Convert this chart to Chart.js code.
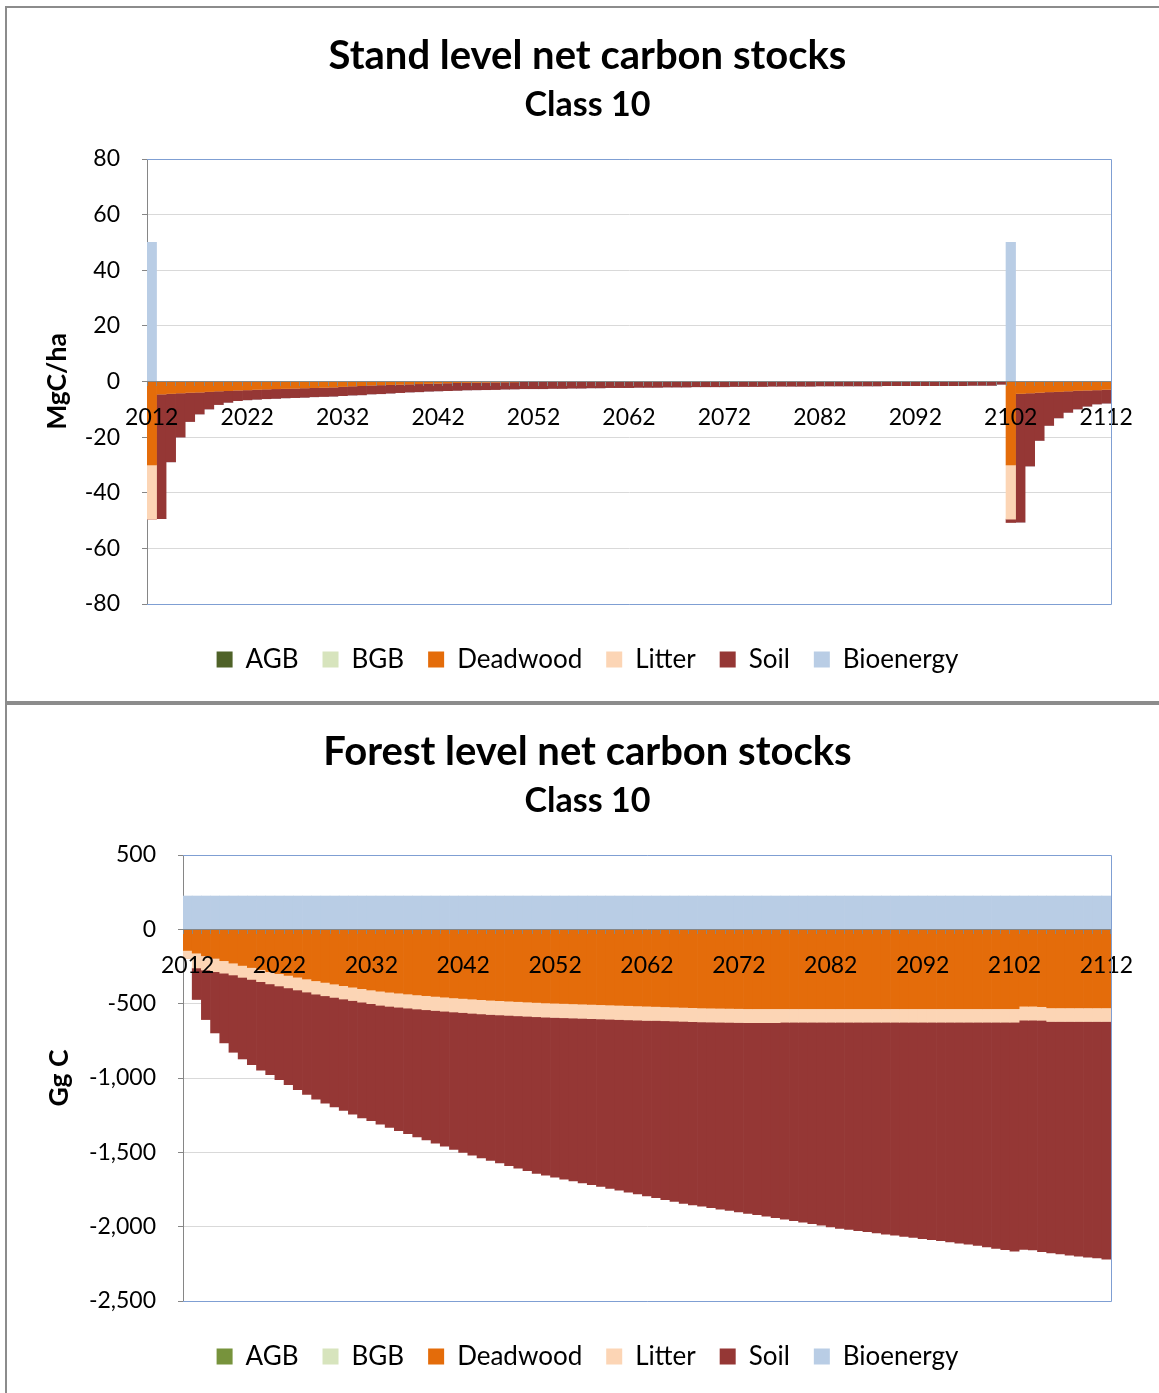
<!DOCTYPE html>
<html>
<head>
<meta charset="utf-8">
<title>Net carbon stocks - Class 10</title>
<script src="https://cdn.jsdelivr.net/npm/chart.js@4.4.1/dist/chart.umd.min.js"></script>
<style>
    body { margin: 0; background: #fff; width: 1159px; height: 1393px; position: relative; overflow: hidden; }
    .frame { position: absolute; background: #8c8c8c; }
    canvas { position: absolute; }
</style>
</head>
<body>
<div class="frame" style="left:5px; top:6px; width:1154px; height:2px;"></div>
<div class="frame" style="left:5px; top:6px; width:2px; height:1387px;"></div>
<div class="frame" style="left:5px; top:701px; width:1154px; height:4px;"></div>
<canvas id="standChart" width="1151" height="693" style="left:8px; top:8px;"></canvas>
<canvas id="forestChart" width="1151" height="688" style="left:8px; top:705px;"></canvas>
<script>
const years = [
    2012, 2013, 2014, 2015, 2016, 2017, 2018, 2019, 2020, 2021,
    2022, 2023, 2024, 2025, 2026, 2027, 2028, 2029, 2030, 2031,
    2032, 2033, 2034, 2035, 2036, 2037, 2038, 2039, 2040, 2041,
    2042, 2043, 2044, 2045, 2046, 2047, 2048, 2049, 2050, 2051,
    2052, 2053, 2054, 2055, 2056, 2057, 2058, 2059, 2060, 2061,
    2062, 2063, 2064, 2065, 2066, 2067, 2068, 2069, 2070, 2071,
    2072, 2073, 2074, 2075, 2076, 2077, 2078, 2079, 2080, 2081,
    2082, 2083, 2084, 2085, 2086, 2087, 2088, 2089, 2090, 2091,
    2092, 2093, 2094, 2095, 2096, 2097, 2098, 2099, 2100, 2101,
    2102, 2103, 2104, 2105, 2106, 2107, 2108, 2109, 2110, 2111,
    2112
];
const yearTicks = ['2012', '2022', '2032', '2042', '2052', '2062', '2072', '2082', '2092', '2102', '2112'];

// stand level, MgC/ha
const standAGB = [];
const standBGB = [];
const standDeadwood = [
    -30, -4.5, -4.3, -4.1, -3.9, -3.8, -3.6, -3.4, -3.3, -3.1,
    -3.0, -2.8, -2.7, -2.6, -2.5, -2.4, -2.3, -2.2, -2.1, -2.0,
    -1.8, -1.6, -1.5, -1.3, -1.2, -1.1, -1.0, -0.9, -0.8, -0.7,
    -0.6, -0.5, -0.4, -0.35, -0.3, -0.25, -0.2, -0.15, -0.1, 0,
    0, 0, 0, 0, 0, 0, 0, 0, 0, 0,
    0, 0, 0, 0, 0, 0, 0, 0, 0, 0,
    0, 0, 0, 0, 0, 0, 0, 0, 0, 0,
    0, 0, 0, 0, 0, 0, 0, 0, 0, 0,
    0, 0, 0, 0, 0, 0, 0, 0, 0, 0,
    -30, -4.3, -4.1, -3.9, -3.7, -3.6, -3.4, -3.2, -3.1, -3.0,
    -2.8
];
const standLitter = [
    -19.5, 0, 0, 0, 0, 0, 0, 0, 0, 0,
    0, 0, 0, 0, 0, 0, 0, 0, 0, 0,
    0, 0, 0, 0, 0, 0, 0, 0, 0, 0,
    0, 0, 0, 0, 0, 0, 0, 0, 0, 0,
    0, 0, 0, 0, 0, 0, 0, 0, 0, 0,
    0, 0, 0, 0, 0, 0, 0, 0, 0, 0,
    0, 0, 0, 0, 0, 0, 0, 0, 0, 0,
    0, 0, 0, 0, 0, 0, 0, 0, 0, 0,
    0, 0, 0, 0, 0, 0, 0, 0, 0, 0,
    -19.5, 0, 0, 0, 0, 0, 0, 0, 0, 0,
    0
];
const standSoil = [
    0, -44.8, -24.6, -15.9, -10.5, -7.9, -6.3, -4.9, -4.2, -3.8,
    -3.6, -3.6, -3.5, -3.5, -3.4, -3.4, -3.4, -3.3, -3.3, -3.3,
    -3.3, -3.3, -3.3, -3.2, -3.2, -3.1, -3.0, -2.9, -2.9, -2.8,
    -2.8, -2.8, -2.8, -2.7, -2.7, -2.7, -2.7, -2.6, -2.6, -2.6,
    -2.6, -2.6, -2.5, -2.5, -2.4, -2.4, -2.3, -2.3, -2.2, -2.2,
    -2.2, -2.1, -2.1, -2.1, -2.0, -2.0, -2.0, -1.9, -1.9, -1.9,
    -1.9, -1.8, -1.8, -1.8, -1.8, -1.7, -1.7, -1.7, -1.7, -1.7,
    -1.6, -1.6, -1.6, -1.6, -1.6, -1.6, -1.6, -1.5, -1.5, -1.5,
    -1.5, -1.5, -1.5, -1.5, -1.5, -1.5, -1.4, -1.4, -1.4, -1.0,
    -1.2, -46.3, -26.3, -17.3, -12.1, -9.5, -7.7, -6.7, -5.8, -5.1,
    -5.0
];
const standBioenergy = [
    50, 0, 0, 0, 0, 0, 0, 0, 0, 0,
    0, 0, 0, 0, 0, 0, 0, 0, 0, 0,
    0, 0, 0, 0, 0, 0, 0, 0, 0, 0,
    0, 0, 0, 0, 0, 0, 0, 0, 0, 0,
    0, 0, 0, 0, 0, 0, 0, 0, 0, 0,
    0, 0, 0, 0, 0, 0, 0, 0, 0, 0,
    0, 0, 0, 0, 0, 0, 0, 0, 0, 0,
    0, 0, 0, 0, 0, 0, 0, 0, 0, 0,
    0, 0, 0, 0, 0, 0, 0, 0, 0, 0,
    50, 0, 0, 0, 0, 0, 0, 0, 0, 0,
    0
];

// forest level, Gg C
const forestAGB = [];
const forestBGB = [];
const forestDeadwood = [
    -142, -160, -178, -195, -211, -227, -243, -257, -271, -285,
    -298, -310, -322, -334, -346, -357, -368, -379, -389, -399,
    -408, -416, -423, -429, -435, -441, -446, -451, -456, -461,
    -465, -469, -473, -477, -480, -483, -486, -489, -492, -495,
    -497, -499, -501, -503, -505, -507, -509, -511, -513, -515,
    -517, -519, -521, -523, -525, -527, -529, -530, -531, -532,
    -533, -534, -534, -534, -534, -534, -534, -534, -534, -534,
    -534, -534, -534, -534, -534, -534, -534, -534, -534, -534,
    -534, -534, -534, -534, -534, -534, -534, -534, -534, -534,
    -534, -517, -517, -520, -528, -528, -528, -528, -528, -528,
    -528
];
const forestLitter = [
    -55, -100, -96, -90, -84, -80, -80, -80, -81, -82,
    -83, -84, -86, -88, -90, -90, -90, -90, -90, -91,
    -92, -95, -95, -95, -95, -95, -95, -95, -95, -95,
    -95, -96, -96, -96, -96, -96, -96, -96, -96, -96,
    -96, -96, -96, -96, -96, -96, -96, -96, -96, -96,
    -96, -94, -94, -94, -94, -94, -94, -94, -94, -94,
    -94, -94, -94, -94, -94, -91, -91, -91, -91, -91,
    -91, -91, -91, -91, -91, -91, -91, -91, -91, -91,
    -91, -91, -91, -91, -91, -91, -91, -91, -91, -91,
    -91, -94, -94, -92, -92, -92, -92, -92, -92, -92,
    -92
];
const forestSoil = [
    0, -212, -333, -412, -469, -520, -549, -573, -596, -611,
    -630, -651, -670, -688, -706, -723, -737, -749, -764, -778,
    -787, -800, -815, -830, -845, -860, -876, -892, -908, -924,
    -941, -954, -968, -981, -995, -1010, -1024, -1039, -1053, -1063,
    -1074, -1085, -1095, -1106, -1116, -1127, -1137, -1148, -1159, -1169,
    -1180, -1192, -1203, -1213, -1224, -1232, -1239, -1248, -1257, -1265,
    -1274, -1283, -1292, -1302, -1312, -1325, -1335, -1345, -1355, -1365,
    -1376, -1386, -1394, -1402, -1409, -1417, -1425, -1432, -1440, -1448,
    -1455, -1463, -1470, -1478, -1486, -1493, -1501, -1511, -1521, -1530,
    -1540, -1542, -1545, -1556, -1556, -1564, -1571, -1578, -1585, -1591,
    -1598
];
const forestBioenergy = [
    224, 224, 224, 224, 224, 224, 224, 224, 224, 224,
    224, 224, 224, 224, 224, 224, 224, 224, 224, 224,
    224, 224, 224, 224, 224, 224, 224, 224, 224, 224,
    224, 224, 224, 224, 224, 224, 224, 224, 224, 224,
    224, 224, 224, 224, 224, 224, 224, 224, 224, 224,
    224, 224, 224, 224, 224, 224, 224, 224, 224, 224,
    224, 224, 224, 224, 224, 224, 224, 224, 224, 224,
    224, 224, 224, 224, 224, 224, 224, 224, 224, 224,
    224, 224, 224, 224, 224, 224, 224, 224, 224, 224,
    224, 224, 224, 224, 224, 224, 224, 224, 224, 224,
    224
];

Chart.defaults.font.family = 'Lato, "Open Sans", sans-serif';
Chart.defaults.color = '#000';

// blue outline of the plot area (left side stays the grey value axis)
const plotFrame = {
    id: 'plotFrame',
    afterDraw(chart) {
        const { ctx, chartArea: a } = chart;
        ctx.save();
        ctx.strokeStyle = '#7f9fd3';
        ctx.lineWidth = 1;
        ctx.beginPath();
        ctx.moveTo(a.left, a.top + 0.5);
        ctx.lineTo(a.right + 0.5, a.top + 0.5);
        ctx.lineTo(a.right + 0.5, a.bottom + 0.5);
        ctx.lineTo(a.left, a.bottom + 0.5);
        ctx.stroke();
        ctx.restore();
    }
};

function bars(label, data, color) {
    return {
        label: label,
        data: data,
        backgroundColor: color,
        borderColor: color,
        borderWidth: 0,
        barPercentage: 1,
        categoryPercentage: 1
    };
}

function makeChart(id, opts) {
    new Chart(document.getElementById(id), {
        type: 'bar',
        data: {
            labels: years,
            datasets: [
                bars('AGB', opts.agb, opts.agbColor),
                bars('BGB', opts.bgb, '#d7e4bd'),
                bars('Deadwood', opts.deadwood, '#e46c0a'),
                bars('Litter', opts.litter, '#fcd5b5'),
                bars('Soil', opts.soil, '#953735'),
                bars('Bioenergy', opts.bioenergy, '#b9cde5')
            ]
        },
        options: {
            responsive: false,
            animation: false,
            devicePixelRatio: 1,
            layout: { padding: { left: 56, right: 48, top: 0, bottom: opts.padBottom } },
            plugins: {
                title: {
                    display: true,
                    text: opts.title,
                    font: { size: 40, weight: 'bold' },
                    padding: { top: opts.titleTop, bottom: 0 }
                },
                subtitle: {
                    display: true,
                    text: 'Class 10',
                    color: '#000',
                    font: { size: 34, weight: 'bold' },
                    padding: { top: 5, bottom: 33.2 }
                },
                legend: {
                    position: 'bottom',
                    title: { display: true, text: '', font: { size: 1 }, padding: { top: 17.3, bottom: 0 } },
                    labels: { boxWidth: 16, boxHeight: 16, padding: 24, font: { size: 26 } }
                },
                tooltip: { enabled: false }
            },
            scales: {
                x: {
                    stacked: true,
                    position: { y: 0 },
                    offset: true,
                    grid: { drawOnChartArea: false, offset: true, tickLength: 4, color: '#868686', z: 1 },
                    border: { color: '#868686', z: 1 },
                    ticks: {
                        z: 1,
                        autoSkip: false,
                        maxRotation: 0,
                        padding: 18,
                        font: { size: 23 },
                        callback: (v, i) => yearTicks.includes(String(years[i])) ? String(years[i]) : ''
                    }
                },
                y: {
                    stacked: true,
                    min: opts.min,
                    max: opts.max,
                    afterFit: s => { s.width = opts.axisWidth; },
                    grid: { color: '#d9d9d9', tickColor: '#868686', tickLength: 5 },
                    border: { color: '#868686' },
                    ticks: { stepSize: opts.step, padding: 22, font: { size: 23 } },
                    title: {
                        display: true,
                        text: opts.yTitle,
                        font: { size: 26.5, weight: 'bold' },
                        padding: { top: opts.yTitlePad, bottom: 0 }
                    }
                }
            }
        },
        plugins: [plotFrame]
    });
}

makeChart('standChart', {
    title: 'Stand level net carbon stocks',
    yTitle: 'MgC/ha',
    agb: standAGB, bgb: standBGB, deadwood: standDeadwood, litter: standLitter,
    soil: standSoil, bioenergy: standBioenergy,
    agbColor: '#4f6228',
    min: -80, max: 80, step: 20,
    axisWidth: 83, yTitlePad: -22,
    titleTop: 24, padBottom: 18.5
});

makeChart('forestChart', {
    title: 'Forest level net carbon stocks',
    yTitle: 'Gg C',
    agb: forestAGB, bgb: forestBGB, deadwood: forestDeadwood, litter: forestLitter,
    soil: forestSoil, bioenergy: forestBioenergy,
    agbColor: '#77933c',
    min: -2500, max: 500, step: 500,
    axisWidth: 119, yTitlePad: -20,
    titleTop: 23, padBottom: 13.5
});
</script>
</body>
</html>
